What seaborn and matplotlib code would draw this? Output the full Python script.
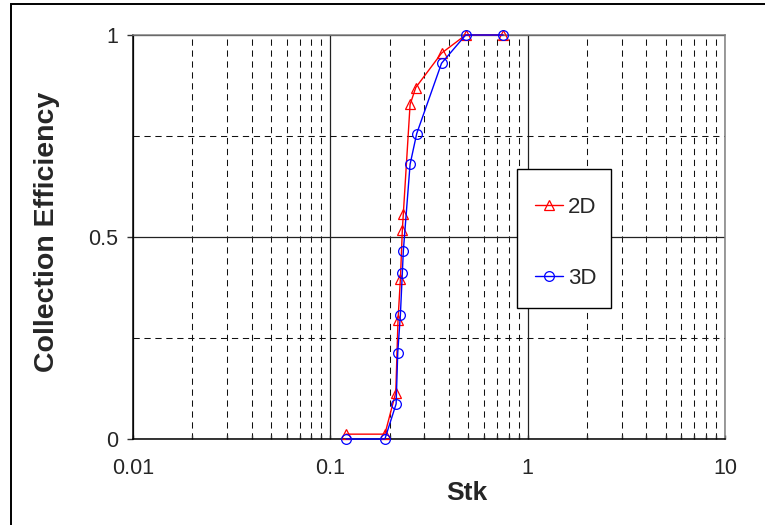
import matplotlib
matplotlib.use("Agg")
import matplotlib.pyplot as plt
from matplotlib.patches import Rectangle
from matplotlib.lines import Line2D
import seaborn as sns
import pandas as pd

# Stokes number vs. collection efficiency for the 2D and 3D simulations
stk_2d = [0.12, 0.189, 0.2146, 0.2203, 0.2265, 0.2317, 0.2344, 0.2536, 0.271, 0.366, 0.485, 0.75]
eff_2d = [0.012, 0.012, 0.115, 0.295, 0.396, 0.518, 0.558, 0.828, 0.870, 0.955, 1.0, 1.0]

stk_3d = [0.12, 0.189, 0.2155, 0.2196, 0.2265, 0.2317, 0.2344, 0.2536, 0.274, 0.366, 0.485, 0.75]
eff_3d = [0.0, 0.0, 0.087, 0.214, 0.308, 0.412, 0.466, 0.680, 0.756, 0.930, 1.0, 1.0]

x_ticks = [0.01, 0.1, 1, 10]
x_tick_labels = ["0.01", "0.1", "1", "10"]
y_ticks = [0, 0.5, 1]
y_tick_labels = ["0", "0.5", "1"]

df_2d = pd.DataFrame({"Stk": stk_2d, "eff": eff_2d})
df_3d = pd.DataFrame({"Stk": stk_3d, "eff": eff_3d})

sns.set_style("white")
plt.rcParams["font.family"] = ["Liberation Sans", "DejaVu Sans"]

fig = plt.figure(figsize=(7.65, 5.25), dpi=100)
ax = fig.add_axes([133 / 765, 86 / 525, 592 / 765, 404 / 525])

sns.lineplot(data=df_2d, x="Stk", y="eff", ax=ax, sort=False, estimator=None,
             color="#ff0000", linewidth=1.0, marker="^", markersize=7,
             markerfacecolor="none", markeredgecolor="#ff0000",
             markeredgewidth=0.9, zorder=4, clip_on=False)
sns.lineplot(data=df_3d, x="Stk", y="eff", ax=ax, sort=False, estimator=None,
             color="#0000ff", linewidth=1.0, marker="o", markersize=7,
             markerfacecolor="none", markeredgecolor="#0000ff",
             markeredgewidth=0.9, zorder=5, clip_on=False)

ax.set_xscale("log")
ax.set_xlim(0.01, 10)
ax.set_ylim(0, 1)
ax.set_xticks(x_ticks)
ax.set_xticklabels(x_tick_labels)
ax.set_yticks(y_ticks)
ax.set_yticklabels(y_tick_labels)
ax.set_yticks([0.25, 0.75], minor=True)

# grid: solid major lines, dashed minor lines
ax.grid(which="major", color="#222222", linewidth=0.9, linestyle="-", zorder=1)
ax.grid(which="minor", color="#111111", linewidth=0.75, linestyle=(0, (6, 4.5)), zorder=1)
ax.set_axisbelow(True)

for side in ("left", "bottom"):
    ax.spines[side].set_color("#000000")
    ax.spines[side].set_linewidth(1.1)
for side in ("top", "right"):
    ax.spines[side].set_color("#808080")
    ax.spines[side].set_linewidth(1.1)

ax.tick_params(axis="y", which="major", direction="out", length=4.3, width=1,
               color="#333333", pad=6.5, labelsize=15.5, left=True)
ax.tick_params(axis="y", which="minor", length=0)
ax.tick_params(axis="x", which="major", direction="in", length=3, width=1,
               color="#333333", pad=13.5, labelsize=15.5, bottom=True)
ax.tick_params(axis="x", which="minor", direction="in", length=3, width=1,
               color="#333333", bottom=True)

ax.set_xlabel("Stk", fontsize=19, fontweight="bold")
ax.set_ylabel("Collection Efficiency", fontsize=20.5, fontweight="bold")
ax.xaxis.set_label_coords((467 - 133) / 592, (439 - 493) / 404)
ax.xaxis.label.set_va("center")
ax.yaxis.set_label_coords((47 - 133) / 592, (439 - 232) / 404)
ax.yaxis.label.set_va("center")

# legend: box drawn separately, entries placed inside it
fig.patches.append(Rectangle((517 / 765, 1 - 308 / 525), 94 / 765, 139 / 525,
                             transform=fig.transFigure, facecolor="white",
                             edgecolor="black", linewidth=1.0, zorder=6))
handles = [
    Line2D([], [], color="#ff0000", lw=1.0, marker="^", ms=7, mfc="none",
           mec="#ff0000", mew=0.9),
    Line2D([], [], color="#0000ff", lw=1.0, marker="o", ms=7, mfc="none",
           mec="#0000ff", mew=0.9),
]
leg = fig.legend(handles, ["2D", "3D"], loc="center left",
                 bbox_to_anchor=(535 / 765, 1 - 243 / 525), frameon=False,
                 fontsize=16, borderpad=0, borderaxespad=0,
                 handlelength=1.25, handletextpad=0.25, labelspacing=2.25)
leg.set_zorder(7)

# chart area border
fig.patches.append(Rectangle((11 / 765, -0.1), 1.2, 1.1 - 4 / 525,
                             transform=fig.transFigure, facecolor="none",
                             edgecolor="black", linewidth=1.4, zorder=0))

fig.savefig("out.png", dpi=100)
